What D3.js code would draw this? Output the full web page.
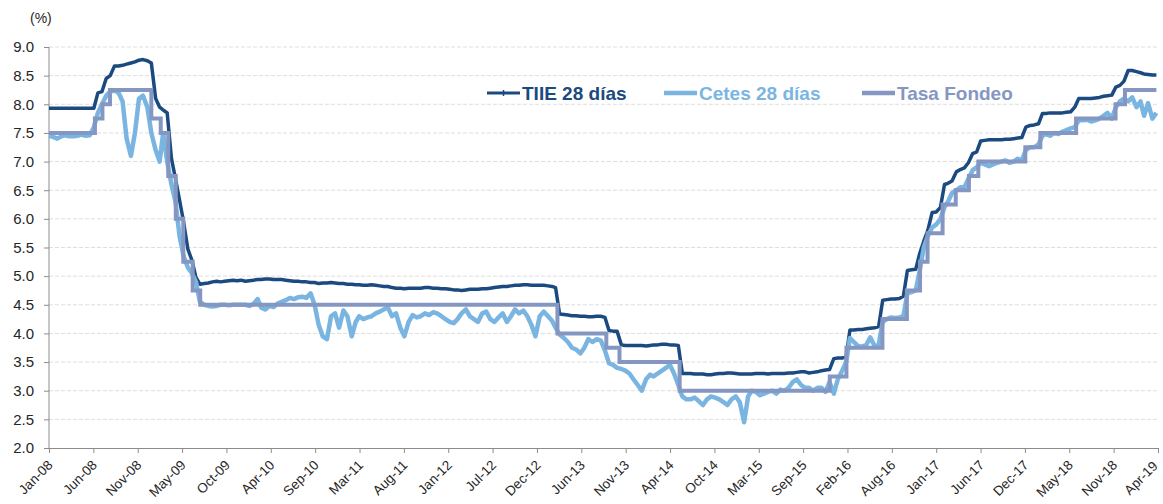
<!DOCTYPE html>
<html>
<head>
<meta charset="utf-8">
<script src="https://cdn.jsdelivr.net/npm/d3@7"></script>
<style>
  body { margin: 0; background: #fff; }
  svg { display: block; font-family: Arial, 'Liberation Sans', sans-serif; }
  .axis path, .axis line { stroke: #8c8c8c; }
  .axis text { fill: #262626; }
</style>
</head>
<body>
<div id="chart"></div>
<script>
// semi-monthly readings (1st and 16th of each month), Jan-08 .. Apr-19
const tiie = [
  // 2008
  7.93, 7.93, 7.93, 7.93, 7.93, 7.93, 7.93, 7.93, 7.93, 7.93, 7.93, 7.93,
  8.20, 8.22, 8.45, 8.50, 8.67, 8.67, 8.68, 8.70, 8.72, 8.74, 8.77, 8.78,
  // 2009
  8.76, 8.72, 8.10, 7.95, 7.90, 7.85, 7.05, 6.70, 6.33, 5.95, 5.47, 5.28,
  4.98, 4.86, 4.87, 4.88, 4.90, 4.91, 4.90, 4.91, 4.92, 4.93, 4.92, 4.93,
  // 2010
  4.91, 4.92, 4.93, 4.94, 4.94, 4.95, 4.95, 4.94, 4.94, 4.94, 4.93, 4.92,
  4.91, 4.91, 4.90, 4.90, 4.89, 4.89, 4.87, 4.88, 4.88, 4.89, 4.88, 4.87,
  // 2011
  4.87, 4.86, 4.86, 4.85, 4.85, 4.84, 4.84, 4.85, 4.84, 4.83, 4.82, 4.82,
  4.80, 4.79, 4.79, 4.78, 4.79, 4.79, 4.79, 4.79, 4.80, 4.80, 4.79, 4.79,
  // 2012
  4.78, 4.78, 4.77, 4.76, 4.76, 4.75, 4.76, 4.77, 4.77, 4.77, 4.78, 4.78,
  4.79, 4.80, 4.81, 4.82, 4.82, 4.83, 4.84, 4.84, 4.85, 4.85, 4.84, 4.84,
  // 2013
  4.84, 4.84, 4.83, 4.82, 4.80, 4.34, 4.33, 4.32, 4.31, 4.31, 4.30, 4.30,
  4.29, 4.29, 4.30, 4.30, 4.28, 4.05, 4.04, 4.04, 3.80, 3.79, 3.79, 3.79,
  // 2014
  3.79, 3.79, 3.78, 3.79, 3.80, 3.80, 3.81, 3.81, 3.80, 3.80, 3.79, 3.30,
  3.30, 3.30, 3.29, 3.29, 3.29, 3.28, 3.28, 3.29, 3.30, 3.30, 3.31, 3.31,
  // 2015
  3.30, 3.29, 3.29, 3.29, 3.29, 3.30, 3.30, 3.30, 3.29, 3.30, 3.30, 3.30,
  3.30, 3.31, 3.31, 3.32, 3.33, 3.33, 3.31, 3.32, 3.33, 3.35, 3.36, 3.37,
  // 2016
  3.56, 3.57, 3.57, 3.60, 4.06, 4.06, 4.07, 4.07, 4.08, 4.09, 4.10, 4.12,
  4.58, 4.59, 4.60, 4.60, 4.61, 4.65, 5.10, 5.11, 5.12, 5.40, 5.61, 5.80,
  // 2017
  6.11, 6.12, 6.20, 6.60, 6.62, 6.66, 6.82, 6.86, 6.89, 6.98, 7.14, 7.17,
  7.36, 7.37, 7.38, 7.38, 7.38, 7.38, 7.39, 7.39, 7.40, 7.41, 7.42, 7.60,
  // 2018
  7.63, 7.64, 7.66, 7.84, 7.84, 7.85, 7.85, 7.85, 7.85, 7.86, 7.87, 7.95,
  8.10, 8.10, 8.10, 8.10, 8.11, 8.12, 8.14, 8.15, 8.16, 8.30, 8.33, 8.40,
  // 2019
  8.59, 8.59, 8.57, 8.55, 8.53, 8.52, 8.51, 8.51
];

const cetes = [
  // 2008
  7.45, 7.43, 7.40, 7.44, 7.46, 7.44, 7.44, 7.45, 7.47, 7.45, 7.46, 7.60,
  7.85, 8.00, 8.15, 8.22, 8.24, 8.20, 8.05, 7.40, 7.10, 7.50, 8.10, 8.15,
  // 2009
  7.95, 7.50, 7.20, 7.00, 7.50, 7.00, 6.60, 6.30, 5.70, 5.35, 5.15, 5.05,
  4.90, 4.55, 4.50, 4.48, 4.47, 4.48, 4.50, 4.50, 4.49, 4.50, 4.50, 4.50,
  // 2010
  4.50, 4.48, 4.52, 4.60, 4.45, 4.42, 4.48, 4.46, 4.52, 4.55, 4.58, 4.62,
  4.60, 4.63, 4.64, 4.62, 4.70, 4.50, 4.15, 3.95, 3.90, 4.30, 4.35, 4.10,
  // 2011
  4.40, 4.30, 3.95, 4.20, 4.30, 4.25, 4.28, 4.30, 4.35, 4.38, 4.42, 4.45,
  4.30, 4.35, 4.10, 3.95, 4.20, 4.32, 4.28, 4.30, 4.35, 4.32, 4.37, 4.35,
  // 2012
  4.30, 4.25, 4.20, 4.18, 4.25, 4.35, 4.42, 4.30, 4.25, 4.20, 4.35, 4.38,
  4.25, 4.20, 4.28, 4.35, 4.20, 4.30, 4.42, 4.35, 4.40, 4.30, 4.15, 3.95,
  // 2013
  4.30, 4.38, 4.30, 4.22, 4.10, 3.98, 3.92, 3.85, 3.75, 3.72, 3.65, 3.75,
  3.90, 3.85, 3.90, 3.88, 3.70, 3.48, 3.45, 3.40, 3.38, 3.35, 3.30, 3.20,
  // 2014
  3.10, 3.00, 3.20, 3.28, 3.25, 3.30, 3.35, 3.40, 3.45, 3.30, 3.10, 2.90,
  2.85, 2.85, 2.88, 2.82, 2.75, 2.85, 2.90, 2.88, 2.85, 2.80, 2.75, 2.85,
  // 2015
  2.90, 2.80, 2.45, 2.90, 3.00, 2.98, 2.92, 2.95, 2.98, 3.00, 2.95, 3.02,
  3.00, 3.05, 3.15, 3.20, 3.10, 3.05, 3.05, 3.00, 3.05, 3.05, 2.98, 3.15,
  // 2016
  2.95, 3.20, 3.35, 3.50, 3.92, 3.85, 3.78, 3.77, 3.80, 3.93, 3.78, 3.80,
  4.20, 4.25, 4.28, 4.27, 4.28, 4.30, 4.70, 4.72, 4.75, 5.10, 5.50, 5.70,
  // 2017
  5.85, 5.90, 6.00, 6.20, 6.30, 6.45, 6.50, 6.55, 6.55, 6.70, 6.85, 6.90,
  6.98, 6.95, 6.92, 6.95, 6.98, 7.00, 7.02, 6.98, 7.00, 7.05, 7.02, 7.20,
  // 2018
  7.25, 7.25, 7.30, 7.45, 7.48, 7.45, 7.50, 7.48, 7.52, 7.55, 7.58, 7.60,
  7.72, 7.72, 7.73, 7.70, 7.72, 7.75, 7.80, 7.85, 7.75, 7.95, 8.05, 8.10,
  // 2019
  8.05, 8.12, 7.95, 8.05, 7.80, 8.02, 7.75, 7.85
];

// policy rate decisions
const fondeoDates = [
  '2008-01-01', '2008-06-20', '2008-07-18', '2008-08-15', '2009-01-16', '2009-02-20',
  '2009-03-20', '2009-04-17', '2009-05-15', '2009-06-19', '2009-07-17', '2013-03-08',
  '2013-09-06', '2013-10-25', '2014-06-06', '2015-12-17', '2016-02-17', '2016-06-30',
  '2016-09-29', '2016-11-17', '2016-12-15', '2017-02-09', '2017-03-30', '2017-05-18',
  '2017-06-22', '2017-12-14', '2018-02-08', '2018-06-21', '2018-11-15', '2018-12-20',
  '2019-04-16'
];
const fondeo = [
  7.50, 7.75, 8.00, 8.25, 7.75, 7.50,
  6.75, 6.00, 5.25, 4.75, 4.50, 4.00,
  3.75, 3.50, 3.00, 3.25, 3.75, 4.25,
  4.75, 5.25, 5.75, 6.25, 6.50, 6.75,
  7.00, 7.25, 7.50, 7.75, 8.00, 8.25,
  8.25
];

const tickLabels = [
  'Jan-08', 'Jun-08', 'Nov-08', 'May-09', 'Oct-09', 'Apr-10', 'Sep-10', 'Mar-11', 'Aug-11',
  'Jan-12', 'Jul-12', 'Dec-12', 'Jun-13', 'Nov-13', 'Apr-14', 'Oct-14', 'Mar-15', 'Sep-15',
  'Feb-16', 'Aug-16', 'Jan-17', 'Jun-17', 'Dec-17', 'May-18', 'Nov-18', 'Apr-19'
];

const seriesNames = ['TIIE 28 días', 'Cetes 28 días', 'Tasa Fondeo'];
const colors = ['#1b4a80', '#7ab5e2', '#8497c2'];

const width = 1163, height = 504;
const parse = d3.timeParse('%Y-%m-%d');
const dates = d3.range(tiie.length).map(i =>
  new Date(2008 + Math.floor(i / 24), Math.floor(i / 2) % 12, i % 2 ? 16 : 1));

const start = parse('2008-01-01'), end = parse('2019-04-22');
const x = d3.scaleTime().domain([start, end]).range([49, 1158]);
const y = d3.scaleLinear().domain([2, 9]).range([448, 47]);

const svg = d3.select('#chart').append('svg')
  .attr('width', width)
  .attr('height', height);

/* grid */
const yTicks = d3.range(2, 9.001, 0.5);
svg.append('g')
  .selectAll('line')
  .data(yTicks.slice(1))
  .enter()
  .append('line')
  .attr('x1', x.range()[0])
  .attr('x2', x.range()[1])
  .attr('y1', d => y(d))
  .attr('y2', d => y(d))
  .attr('stroke', '#dedede')
  .attr('stroke-dasharray', '4,2');

/* axes */
const yAxis = d3.axisLeft(y).tickValues(yTicks).tickFormat(d3.format('.1f')).tickSize(5).tickPadding(10);
svg.append('g')
  .attr('class', 'axis')
  .attr('transform', `translate(${x.range()[0]},0)`)
  .call(yAxis)
  .call(g => g.select('.domain').attr('d', `M0,${y(2)}V${y(9)}`))
  .selectAll('text')
  .style('font-size', '15px');

const span = end - start;
const tickDates = tickLabels.map((l, i) => new Date(+start + span * i / (tickLabels.length - 1)));
const xAxis = d3.axisBottom(x).tickValues(tickDates).tickFormat((d, i) => tickLabels[i]).tickSize(5).tickSizeOuter(0);
const last = tickLabels.length - 1;
svg.append('g')
  .attr('class', 'axis')
  .attr('transform', `translate(0,${y(2)})`)
  .call(xAxis)
  .selectAll('text')
  .style('font-size', '13.5px')
  .style('text-anchor', 'end')
  .attr('dx', 0)
  .attr('dy', '0.35em')
  // the last label sits against the right edge, nudge it in a little
  .attr('transform', (d, i) => `translate(${i === last ? -9 : -5},${i === last ? 10 : 9}) rotate(-45)`);

svg.append('text')
  .attr('x', 30)
  .attr('y', 23)
  .style('font-size', '14px')
  .attr('fill', '#262626')
  .text('(%)');

/* lines */
const line = d3.line().x(d => x(d[0])).y(d => y(d[1]));
const stepLine = d3.line().x(d => x(d[0])).y(d => y(d[1])).curve(d3.curveStepAfter);

svg.append('path')
  .datum(dates.map((d, i) => [d, tiie[i]]))
  .attr('d', line)
  .attr('fill', 'none')
  .attr('stroke', colors[0])
  .attr('stroke-width', 3.5)
  .attr('stroke-linejoin', 'round');

svg.append('path')
  .datum(dates.map((d, i) => [d, cetes[i]]))
  .attr('d', line)
  .attr('fill', 'none')
  .attr('stroke', colors[1])
  .attr('stroke-width', 4.5)
  .attr('stroke-linejoin', 'round');

svg.append('path')
  .datum(fondeoDates.map((d, i) => [parse(d), fondeo[i]]))
  .attr('d', stepLine)
  .attr('fill', 'none')
  .attr('stroke', colors[2])
  .attr('stroke-width', 4);

/* legend */
const legendX = [487, 664, 862];
const legend = svg.append('g');
seriesNames.forEach((name, i) => {
  legend.append('line')
    .attr('x1', legendX[i])
    .attr('x2', legendX[i] + 33)
    .attr('y1', 93)
    .attr('y2', 93)
    .attr('stroke', colors[i])
    .attr('stroke-width', i === 0 ? 3 : 4.5);
  if (i === 0) {
    legend.append('line')
      .attr('x1', legendX[i] + 16.5)
      .attr('x2', legendX[i] + 16.5)
      .attr('y1', 90)
      .attr('y2', 96)
      .attr('stroke', colors[i])
      .attr('stroke-width', 1.5);
  }
  legend.append('text')
    .attr('x', legendX[i] + 35)
    .attr('y', 100)
    .attr('fill', colors[i])
    .style('font-size', '19px')
    .style('font-weight', 'bold')
    .text(name);
});
</script>
</body>
</html>
